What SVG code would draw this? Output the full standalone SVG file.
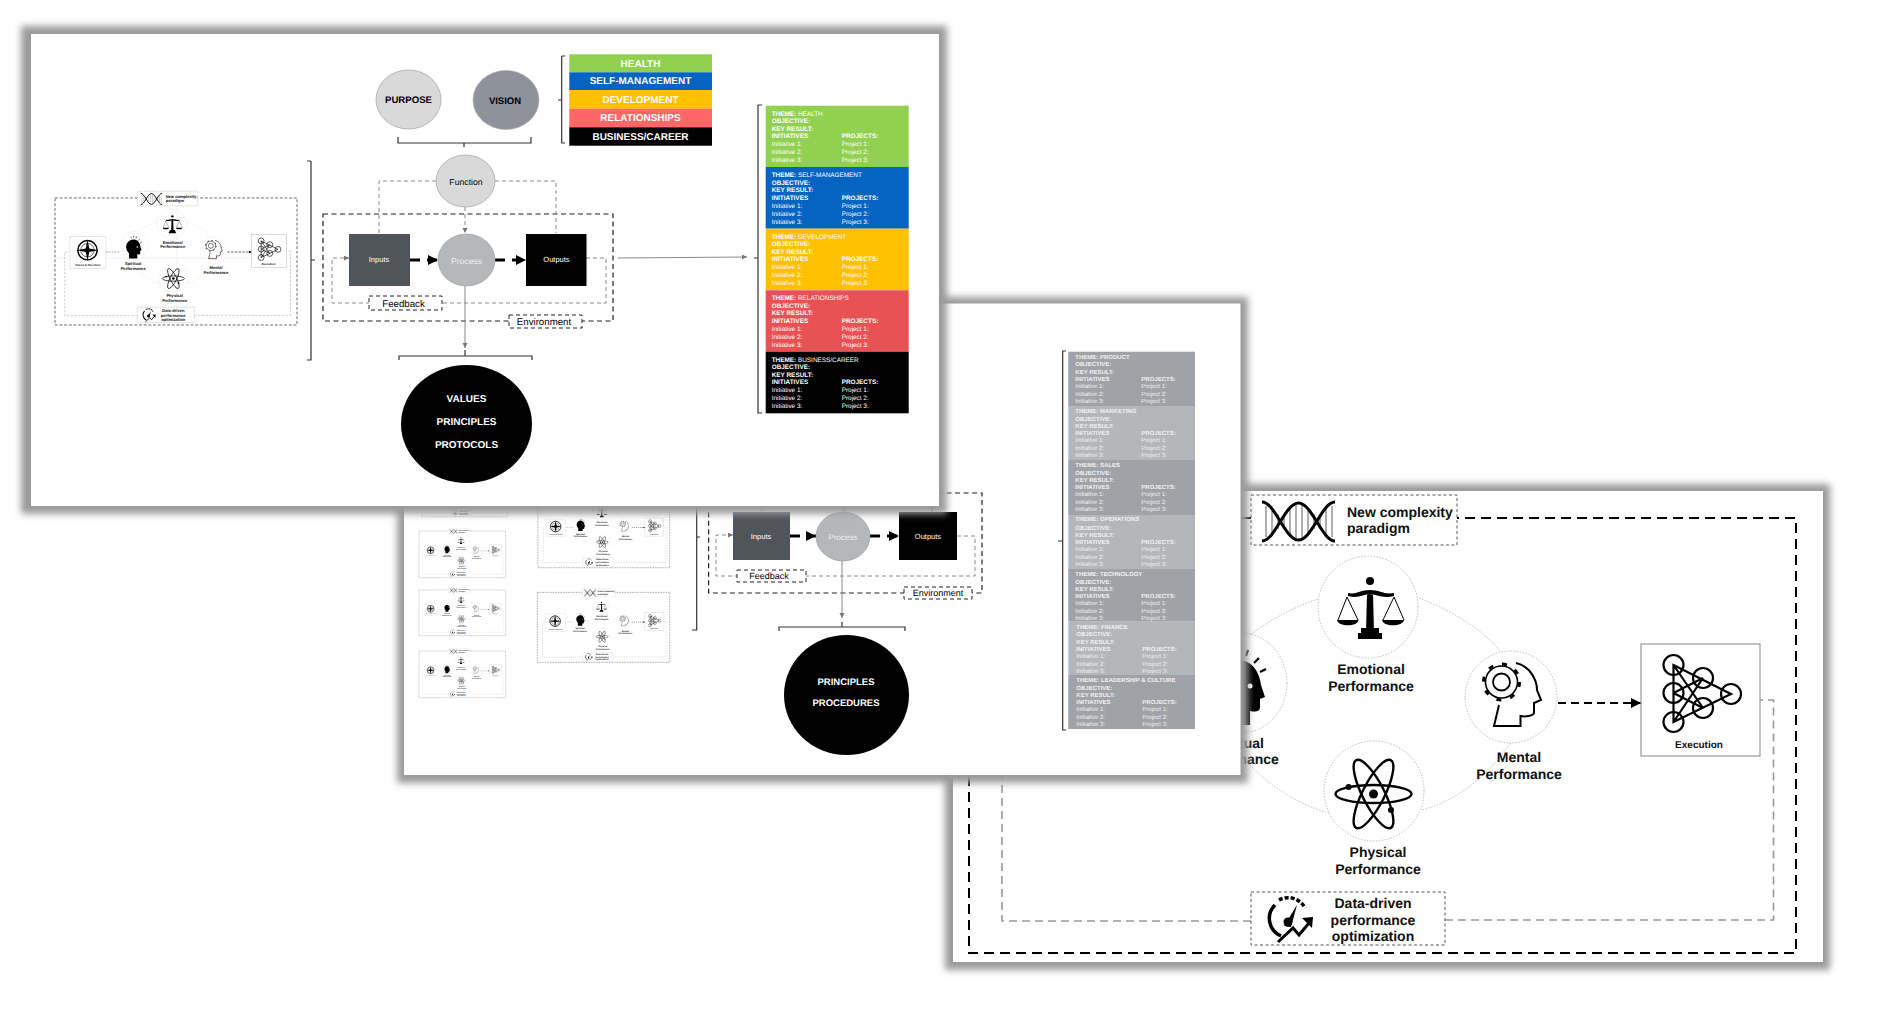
<svg xmlns="http://www.w3.org/2000/svg" xmlns:xlink="http://www.w3.org/1999/xlink" width="1884" height="1009" viewBox="0 0 1884 1009">
<style>
text{font-family:"Liberation Sans",Arial,sans-serif;text-rendering:geometricPrecision}
.slide{fill:#fff}
.sh{fill:#9a9a9a;filter:url(#blur)}
.b{font-weight:700}
.m{text-anchor:middle}
.perf{font-size:14px;font-weight:700;fill:#111}
.w{fill:#fff}
.dash-k{fill:none;stroke:#222;stroke-width:1.2;stroke-dasharray:5 3.5}
.dash-g{fill:none;stroke:#8a8a8a;stroke-width:1;stroke-dasharray:4 3}
.brk{fill:none;stroke:#333;stroke-width:1.2}
.thick{fill:none;stroke:#000;stroke-width:3;stroke-dasharray:10 7}
.lab{fill:#fff;stroke:#222;stroke-width:1;stroke-dasharray:4 3}
.ring{fill:none;stroke:#aaa;stroke-width:.8;stroke-dasharray:1.5 1.5}
.t1{font-size:6.4px}
.t2{font-size:6px}
</style>
<defs>
<filter id="blur" x="-5%" y="-5%" width="110%" height="110%"><feGaussianBlur stdDeviation="3.5"/></filter>
<marker id="ah" markerUnits="userSpaceOnUse" markerWidth="12" markerHeight="12" refX="10" refY="5" orient="auto"><path d="M0 0L10 5L0 10z" fill="#000"/></marker>
<marker id="ag" markerUnits="userSpaceOnUse" markerWidth="6" markerHeight="6" refX="5" refY="2.5" orient="auto"><path d="M0 0L5 2.5L0 5z" fill="#777"/></marker>
<g id="rows1" class="t1">
<text x="6" y="17.5" class="b">OBJECTIVE:</text><text x="6" y="25" class="b">KEY RESULT:</text>
<text x="6" y="32.7" class="b">INITIATIVES</text><text x="76" y="32.7" class="b">PROJECTS:</text>
<text x="6" y="40.5">Initiative 1:</text><text x="76" y="40.5">Project 1:</text>
<text x="6" y="48.7">Initiative 2:</text><text x="76" y="48.7">Project 2:</text>
<text x="6" y="56.7">Initiative 3:</text><text x="76" y="56.7">Project 3:</text>
</g>
<g id="rows2" class="t2">
<text x="7" y="14.5" class="b">OBJECTIVE:</text><text x="7" y="22" class="b">KEY RESULT:</text>
<text x="7" y="29" class="b">INITIATIVES</text><text x="73" y="29" class="b">PROJECTS:</text>
<text x="7" y="36">Initiative 1:</text><text x="73" y="36">Project 1:</text>
<text x="7" y="44">Initiative 2:</text><text x="73" y="44">Project 2:</text>
<text x="7" y="51">Initiative 3:</text><text x="73" y="51">Project 3:</text>
</g>
<g id="perf">
<g fill="none">
<path d="M1318 599Q1280 612 1250 635M1419 598Q1475 620 1501 652M1510 743Q1475 795 1422 810M1329 813Q1265 795 1222 730" class="ring"/>
<rect x="969" y="518" width="827" height="435" fill="none" stroke="#000" stroke-width="2" stroke-dasharray="10 6"/>
<path d="M1251 921H1002V703H1020M1445 920H1773.500V700H1760" stroke="#999" stroke-width="1.600" stroke-dasharray="8 5"/>
<path d="M1558 703H1641" stroke="#000" stroke-width="2.200" stroke-dasharray="8 5" marker-end="url(#ah)"/>
</g>
<g id="p-emotional">
<ellipse cx="1368" cy="607" rx="50" ry="51" class="ring"/>
<circle cx="1370" cy="581" r="4"/><path d="M1348 596C1358 599 1364 594 1370 594C1376 594 1382 599 1394 596L1394 593C1384 595 1380 590 1370 590C1360 590 1356 595 1348 593zM1367 594H1373L1374 632H1366z"/>
<path d="M1358 633H1382V639H1358zM1361 628H1379V633H1361zM1337 620H1358.500C1358 627 1338 627 1337 620zM1382 620H1404C1403 627 1383 627 1382 620z"/>
<path d="M1347 597L1338 620M1347 597L1358 620M1394 597L1383 620M1394 597L1404 620" stroke="#000" stroke-width="1" fill="none"/>
<text x="1371" y="674" class="perf m">Emotional</text><text x="1371" y="691" class="perf m">Performance</text>
</g>
<g id="p-mental">
<ellipse cx="1511" cy="697" rx="46" ry="46" class="ring"/>
<circle cx="1501.500" cy="682" r="16" fill="none" stroke="#000" stroke-width="1.600"/><circle cx="1501.500" cy="682" r="8.500" fill="none" stroke="#000" stroke-width="1.800"/><circle cx="1501.500" cy="682" r="18" fill="none" stroke="#000" stroke-width="3" stroke-dasharray="5 9.140"/>
<path d="M1516 663C1530 666 1537 680 1537 690L1541 700L1534 703V713C1533 716 1525 717 1520.500 716V726H1494L1499 705" fill="none" stroke="#000" stroke-width="2"/>
<text x="1519" y="762" class="perf m">Mental</text><text x="1519" y="779" class="perf m">Performance</text>
</g>
<g id="p-physical">
<ellipse cx="1374" cy="791" rx="50" ry="50" class="ring"/>
<g fill="none" stroke="#000" stroke-width="2.400"><ellipse cx="1373.500" cy="794" rx="38" ry="9"/><ellipse cx="1373.500" cy="794" rx="38" ry="11" transform="rotate(63 1373.500 794)"/><ellipse cx="1373.500" cy="794" rx="38" ry="11" transform="rotate(117 1373.500 794)"/></g>
<circle cx="1373.500" cy="794" r="4.500"/><circle cx="1348.600" cy="787" r="3"/><circle cx="1391" cy="810" r="3"/>
<text x="1378" y="857" class="perf m">Physical</text><text x="1378" y="874" class="perf m">Performance</text>
</g>
<g id="p-spiritual">
<ellipse cx="1241" cy="683" rx="46" ry="50" class="ring"/>
<path d="M1238 660C1254 660 1260 675 1261 685L1265 697L1260 699V707C1260 712 1255 712 1250 711V725H1222V708C1212 698 1210 685 1214 675C1220 663 1230 660 1238 660z"/><circle cx="1250" cy="686" r="2.500" fill="#fff"/>
<path d="M1248 650L1246 656M1259 658L1254 663M1266 669L1260 672M1238 648V654M1228 651L1230 656" stroke="#000" stroke-width="2.200"/>
<text x="1236" y="748" class="perf m">Spiritual</text><text x="1236" y="764" class="perf m">Performance</text>
</g>
<g id="p-execution">
<rect x="1641" y="644" width="119" height="112" fill="#fff" stroke="#999" stroke-width="1.200"/>
<g fill="none" stroke="#000" stroke-width="2.200"><circle cx="1673.500" cy="665" r="10"/><circle cx="1703" cy="678" r="10"/><circle cx="1673.500" cy="693" r="10"/><circle cx="1703" cy="708" r="10"/><circle cx="1673.500" cy="722" r="10"/><circle cx="1731" cy="694" r="10"/><path d="M1673.500 665L1731 694L1673.500 722zM1673.500 693L1703 678M1673.500 693L1703 708M1703 678L1673.500 722M1673.500 665L1703 708"/></g>
<text x="1699" y="748" font-size="10" class="b m" fill="#111">Execution</text>
</g>
<g id="p-paradigm">
<rect x="1251" y="495" width="206" height="50" fill="#fff" stroke="#444" stroke-width=".9" stroke-dasharray="3 2.500"/>
<path d="M1266 506V537M1272 508V535M1278 514V529M1284 514V529M1290 508V535M1296 505V538M1302 505V538M1308 508V535M1314 514V529M1320 514V529M1326 508V535M1332 506V537" stroke="#333" stroke-width=".8"/>
<path d="M1262 502C1275 502 1285 540 1298.500 540C1312 540 1322 502 1335 502M1262 541C1275 541 1285 503 1298.500 503C1312 503 1322 541 1335 541" fill="none" stroke="#000" stroke-width="3"/>
<text x="1347" y="517" class="perf">New complexity</text><text x="1347" y="533" class="perf">paradigm</text>
</g>
<g id="p-data">
<rect x="1251" y="892" width="194" height="53" fill="#fff" stroke="#444" stroke-width=".9" stroke-dasharray="3 2.500"/>
<path d="M1281 936A19 19 0 0 1 1275 905" fill="none" stroke="#000" stroke-width="3.500"/>
<path d="M1279 900A19 19 0 0 1 1305 908" fill="none" stroke="#000" stroke-width="3.500" stroke-dasharray="4 2"/>
<path d="M1284 926L1297 905L1291 927z"/><circle cx="1288" cy="922" r="4.500"/>
<path d="M1278 942L1293 928L1299 935L1309 923" fill="none" stroke="#000" stroke-width="3"/><path d="M1313 917L1302 918L1312 928z"/>
<text x="1373" y="908" class="perf m">Data-driven</text><text x="1373" y="925" class="perf m">performance</text><text x="1373" y="941" class="perf m">optimization</text>
</g>
</g>
<g id="vis">
<rect x="1020" y="651" width="123" height="109" fill="#fff" stroke="#bbb" stroke-width="1.200"/>
<path d="M1143 703H1192" stroke="#666" stroke-width="2" stroke-dasharray="6 4"/>
<circle cx="1080" cy="697" r="33" fill="none" stroke="#000" stroke-width="5"/><circle cx="1080" cy="697" r="23" fill="none" stroke="#000" stroke-width="2"/>
<path d="M1080 661L1086 691L1116 697L1086 703L1080 733L1074 703L1044 697L1074 691z"/>
<text x="1081" y="751" font-size="10" class="b m" fill="#111">Vision &amp; Direction</text>
</g>
<g id="mini"><use href="#perf"/><use href="#vis"/></g>
</defs>
<rect width="1884" height="1009" fill="#fff"/>

<g id="slide-3">
<rect class="sh" x="945" y="484" width="885" height="486"/>
<rect class="slide" x="953" y="491" width="870" height="471"/>
<use href="#perf"/>
</g>

<g id="slide-2">
<rect class="sh" x="397" y="297" width="851" height="486"/>
<rect class="slide" x="404" y="303.500" width="836.500" height="471.500"/>
<g id="thumbs">
<use href="#mini" transform="translate(321.600 414.400) scale(.1036 .1074)"/>
<use href="#mini" transform="translate(317.400 475.400) scale(.1048 .1074)"/>
<use href="#mini" transform="translate(317.400 535.600) scale(.1048 .105)"/>
<use href="#mini" transform="translate(317.400 595.400) scale(.1048 .1074)"/>
<use href="#mini" transform="translate(383.700 414.400) scale(.1592 .1609)"/>
<use href="#mini" transform="translate(382.200 509) scale(.1601 .1609)"/>
</g>
<g id="s2-connectors">
<path d="M696.700 500V630H692M696.700 537H700" class="brk"/>
<path d="M1058 541H1062.700M1066 351H1062.700V730H1066" class="brk"/>
<rect x="708.600" y="493" width="273.400" height="100" class="dash-k"/>
<path d="M761.400 500V512M844 500V512M932 500V512" class="dash-g" marker-end="url(#ag)"/>
<path d="M790 536H816" class="thick" marker-end="url(#ah)"/><path d="M870 536H899" class="thick" marker-end="url(#ah)"/>
<path d="M957 536H975V576H716V535H733" class="dash-g" stroke-width="1.200" marker-end="url(#ag)"/>
<path d="M842 561V618" stroke="#888" fill="none" marker-end="url(#ag)"/>
<path d="M779 631V627H905V631M842 622V627" class="brk"/>
</g>
<g id="s2-inputs"><rect x="733" y="512" width="57" height="48" fill="#50555c"/><text x="761" y="539" font-size="7.500" class="w m">Inputs</text></g>
<g id="s2-process"><ellipse cx="843" cy="536.500" rx="27" ry="24.500" fill="#b5b8bb" stroke="#999" stroke-width=".6"/><text x="843" y="540" font-size="8" fill="#eee" class="m">Process</text></g>
<g id="s2-outputs"><rect x="899" y="512" width="58" height="48" fill="#000"/><text x="928" y="539" font-size="7.500" class="w m">Outputs</text></g>
<g id="s2-feedback"><rect x="737" y="570" width="69" height="12" class="lab"/><text x="769" y="579" font-size="9" class="m">Feedback</text></g>
<g id="s2-environment"><rect x="904" y="587" width="68" height="12" class="lab"/><text x="938" y="595.500" font-size="9" class="m">Environment</text></g>
<g id="s2-core"><ellipse cx="846.500" cy="695" rx="62.500" ry="60"/><text x="846" y="684.500" font-size="9.500" class="b m" fill="#fff">PRINCIPLES</text><text x="846" y="706" font-size="9.500" class="b m" fill="#fff">PROCEDURES</text></g>
<g id="s2-themes" fill="#f0f0f0">
<g transform="translate(1068.300 351.700)"><rect width="126.700" height="54.300" fill="#9fa3a8"/><text x="7" y="7" class="b t2">THEME: PRODUCT</text><use href="#rows2"/></g>
<g transform="translate(1068.300 406)"><rect width="126.700" height="54" fill="#b4b7ba"/><text x="7" y="7" class="b t2">THEME: MARKETING</text><use href="#rows2"/></g>
<g transform="translate(1068.300 460)"><rect width="126.700" height="55" fill="#9fa3a8"/><text x="7" y="7" class="b t2">THEME: SALES</text><use href="#rows2"/></g>
<g transform="translate(1068.300 515)"><rect width="126.700" height="54" fill="#b4b7ba"/><text x="7" y="6" class="b t2">THEME:  OPERATIONS</text><use href="#rows2"/></g>
<g transform="translate(1068.300 569)"><rect width="126.700" height="52.700" fill="#9fa3a8"/><text x="7" y="7" class="b t2">THEME: TECHNOLOGY</text><use href="#rows2"/></g>
<g transform="translate(1068.300 621.700)"><rect width="126.700" height="53.300" fill="#b4b7ba"/><g transform="translate(1 0)"><text x="7" y="7" class="b t2">THEME:  FINANCE</text><use href="#rows2"/></g></g>
<g transform="translate(1068.300 675)"><rect width="126.700" height="54" fill="#9fa3a8"/><g transform="translate(1 0)"><text x="7" y="7" class="b t2">THEME: LEADERSHIP &amp; CULTURE</text><use href="#rows2"/></g></g>
</g>
</g>

<g id="slide-1">
<rect class="sh" x="21" y="26" width="926" height="488"/>
<rect class="slide" x="31" y="34" width="908" height="472"/>
<path d="M55 258H297M177 192V325" stroke="#eee" stroke-width=".8" fill="none"/>
<use href="#mini" transform="translate(-228.500 46.700) scale(.2926 .292)"/>
<g id="s1-connectors">
<path d="M398 137V143H531V137M464 143V147" class="brk"/>
<path d="M311 161H307M311 161V360H307M311 260H315" class="brk"/>
<path d="M561.700 56H565M561.700 56V143H565M561.700 100H558" class="brk"/>
<path d="M758 105H762M758 105V413H762M758 258H754" class="brk"/>
<rect x="323" y="214" width="290" height="107" class="dash-k"/>
<path d="M436 181H379V233M495 181H556V233M465 207V233" class="dash-g" marker-end="url(#ag)"/>
<path d="M410 260H438" class="thick" marker-end="url(#ah)"/><path d="M495 260H526" class="thick" marker-end="url(#ah)"/>
<path d="M586 258H606V303H332V258H349" class="dash-g" stroke-width="1.200" marker-end="url(#ag)"/>
<path d="M465 286V348" stroke="#888" fill="none" marker-end="url(#ag)"/>
<path d="M399 360V356H532V360M465 350V356" class="brk"/>
<path d="M618 258L747 257" stroke="#888" fill="none" marker-end="url(#ag)"/>
</g>
<g id="s1-purpose"><ellipse cx="408.500" cy="99.500" rx="32.500" ry="29.500" fill="#d9d9d9" stroke="#aaa" stroke-width=".8"/><text x="408.500" y="103" font-size="9.600" class="b m">PURPOSE</text></g>
<g id="s1-vision"><ellipse cx="506" cy="100" rx="33" ry="29.500" fill="#8e929a" stroke="#aaa" stroke-width=".6"/><text x="505" y="104" font-size="9.500" class="b m">VISION</text></g>
<g id="s1-function"><ellipse cx="465.500" cy="181" rx="29.500" ry="26" fill="#d9d9d9" stroke="#aaa" stroke-width=".8"/><text x="466" y="185" font-size="8.700" class="m">Function</text></g>
<g id="s1-inputs"><rect x="349" y="234" width="61" height="52" fill="#50555c"/><text x="379" y="262" font-size="7.500" class="w m">Inputs</text></g>
<g id="s1-process"><ellipse cx="466.500" cy="260" rx="28.500" ry="26" fill="#b5b8bb" stroke="#999" stroke-width=".6"/><text x="466.500" y="264" font-size="8.600" fill="#eee" class="m">Process</text></g>
<g id="s1-outputs"><rect x="526" y="234" width="60.500" height="52" fill="#000"/><text x="556.500" y="262" font-size="7.500" class="w m">Outputs</text></g>
<g id="s1-feedback"><rect x="369" y="296" width="73" height="14" class="lab"/><text x="403.500" y="306.500" font-size="9.700" class="m">Feedback</text></g>
<g id="s1-environment"><rect x="509" y="315" width="73" height="13" class="lab"/><text x="544" y="325" font-size="9.700" class="m">Environment</text></g>
<g id="s1-core"><ellipse cx="466.500" cy="424" rx="65.500" ry="59"/><text x="466.500" y="401.500" font-size="10" class="b w m">VALUES</text><text x="466.500" y="425" font-size="10" class="b w m">PRINCIPLES</text><text x="466.500" y="448" font-size="10" class="b w m">PROTOCOLS</text></g>
<g id="s1-legend" font-size="10" font-weight="700" text-anchor="middle" fill="#fff">
<rect x="569.300" y="54.300" width="142.700" height="18" fill="#92d050"/><text x="640.500" y="66.500">HEALTH</text>
<rect x="569.300" y="72.300" width="142.700" height="17.700" fill="#0563c1"/><text x="640.500" y="84">SELF-MANAGEMENT</text>
<rect x="569.300" y="90" width="142.700" height="18.700" fill="#ffc000"/><text x="640.500" y="102.500">DEVELOPMENT</text>
<rect x="569.300" y="108.700" width="142.700" height="18.600" fill="#ff6666"/><text x="640.500" y="120.500">RELATIONSHIPS</text>
<rect x="569.300" y="127.300" width="142.700" height="18.400" fill="#000"/><text x="640.500" y="139.500">BUSINESS/CAREER</text>
</g>
<g id="s1-themes" fill="#fff">
<g transform="translate(765.700 105.700)"><rect width="143" height="61.300" fill="#92d050"/><text x="6" y="10" class="t1"><tspan class="b">THEME:</tspan> HEALTH</text><use href="#rows1"/></g>
<g transform="translate(765.700 167)"><rect width="143" height="61.700" fill="#0563c1"/><text x="6" y="10" class="t1"><tspan class="b">THEME:</tspan> SELF-MANAGEMENT</text><use href="#rows1"/></g>
<g transform="translate(765.700 228.700)"><rect width="143" height="61.600" fill="#ffc000"/><text x="6" y="10" class="t1"><tspan class="b">THEME:</tspan> DEVELOPMENT</text><use href="#rows1"/></g>
<g transform="translate(765.700 290.300)"><rect width="143" height="61.400" fill="#e85252"/><text x="6" y="10" class="t1"><tspan class="b">THEME:</tspan> RELATIONSHIPS</text><use href="#rows1"/></g>
<g transform="translate(765.700 351.700)"><rect width="143" height="61.600" fill="#000"/><text x="6" y="10" class="t1"><tspan class="b">THEME:</tspan> BUSINESS/CAREER</text><use href="#rows1"/></g>
</g>
</g>
</svg>
